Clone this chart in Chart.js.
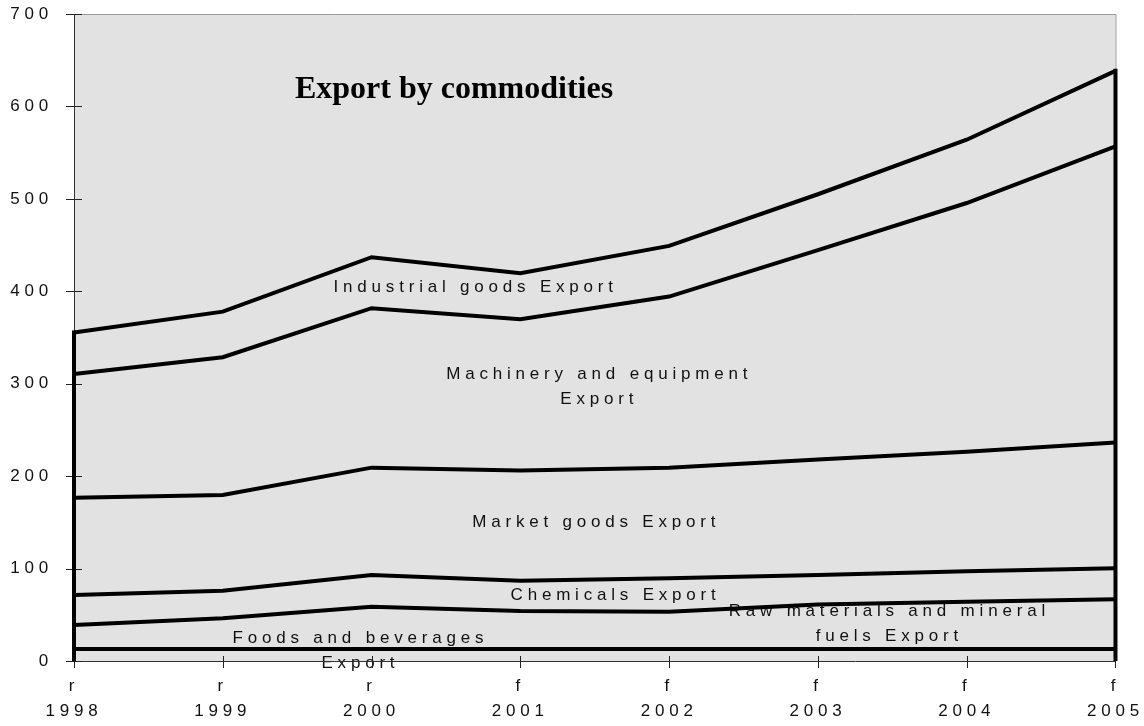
<!DOCTYPE html>
<html>
<head>
<meta charset="utf-8">
<script src="https://cdn.jsdelivr.net/npm/chart.js@4.4.1/dist/chart.umd.min.js"></script>
<style>
  html, body { margin: 0; padding: 0; background: #fff; }
  #wrap { width: 1144px; height: 726px; }
</style>
</head>
<body>
<div id="wrap"><canvas id="chart" width="1144" height="726"></canvas></div>
<script>
// export by commodity group, stacked (bottom to top)
const years = ['1998', '1999', '2000', '2001', '2002', '2003', '2004', '2005'];
const status = ['r', 'r', 'r', 'f', 'f', 'f', 'f', 'f'];
const foods = [13.0, 13.0, 13.0, 13.0, 13.0, 13.0, 13.0, 13.0];
const rawMaterials = [26.0, 33.2, 45.8, 41.1, 40.4, 48.0, 51.0, 53.8];
const chemicals = [32.4, 29.8, 34.2, 32.8, 36.1, 32.0, 33.0, 33.5];
const marketGoods = [105.3, 103.7, 116.2, 119.1, 119.7, 125.0, 129.5, 136.0];
const machinery = [133.9, 149.0, 172.5, 163.8, 185.1, 226.5, 269.0, 320.4];
const industrial = [44.7, 49.3, 55.2, 49.8, 54.8, 60.5, 68.5, 81.8];
const yTicks = [0, 100, 200, 300, 400, 500, 600, 700];

const FONT = 'Arial, "Liberation Sans", sans-serif';
const SPACING = '4.8px';

const series = [foods, rawMaterials, chemicals, marketGoods, machinery, industrial];
const totals = years.map((_, i) => series.reduce((s, arr) => s + arr[i], 0));

// text placed inside the bands, anchored in axis units (category index, value)
const bandLabels = [
  { at: [2.7, 404.8], lines: ['Industrial goods Export'] },
  { at: [3.53, 310.6], lines: ['Machinery and equipment', 'Export'] },
  { at: [3.51, 150.4], lines: ['Market goods Export'] },
  { at: [3.64, 71.4], lines: ['Chemicals Export'] },
  { at: [5.48, 54.1], lines: ['Raw materials and mineral', 'fuels Export'] },
  { at: [1.925, 24.9], lines: ['Foods and beverages', 'Export'] }
];

const backdrop = {
  id: 'backdrop',
  beforeLayout(chart) {
    chart.ctx.letterSpacing = SPACING;
  },
  beforeDraw(chart) {
    const { ctx, chartArea: a, scales: { x, y } } = chart;
    ctx.save();
    ctx.fillStyle = '#e2e2e2';
    ctx.fillRect(a.left, a.top, a.right - a.left, a.bottom - a.top);
    ctx.strokeStyle = '#9a9a9a';
    ctx.lineWidth = 1;
    ctx.beginPath();
    ctx.moveTo(a.left, a.top + 0.5);
    ctx.lineTo(a.right + 0.5, a.top + 0.5);
    ctx.lineTo(a.right + 0.5, a.bottom);
    ctx.stroke();

    ctx.fillStyle = '#111';
    ctx.font = '17px ' + FONT;
    ctx.textAlign = 'center';
    ctx.textBaseline = 'middle';
    bandLabels.forEach(l => {
      const px = x.getPixelForValue(l.at[0]);
      const py = y.getPixelForValue(l.at[1]);
      l.lines.forEach((t, i) => ctx.fillText(t, px, py + i * 25));
    });

    ctx.letterSpacing = '0px';
    ctx.fillStyle = '#000';
    ctx.font = 'bold 32px "Times New Roman", "Liberation Serif", serif';
    ctx.textBaseline = 'alphabetic';
    ctx.fillText('Export by commodities', x.getPixelForValue(2.554), y.getPixelForValue(609.3));
    ctx.restore();
  },
  afterDatasetsDraw(chart) {
    const { ctx, chartArea: a, scales: { x, y } } = chart;
    ctx.save();
    ctx.letterSpacing = '0px';
    // tick marks cross the axis lines
    ctx.strokeStyle = '#222';
    ctx.lineWidth = 1;
    ctx.beginPath();
    yTicks.forEach(v => {
      const py = Math.round(y.getPixelForValue(v)) + 0.5;
      ctx.moveTo(a.left - 8, py);
      ctx.lineTo(a.left + 8, py);
    });
    years.forEach((_, i) => {
      const px = Math.round(x.getPixelForValue(i)) + 0.5;
      ctx.moveTo(px, a.bottom - 5);
      ctx.lineTo(px, a.bottom + 7);
    });
    ctx.stroke();

    // closing edges of the stacked areas
    ctx.strokeStyle = '#000';
    ctx.lineWidth = 4;
    ctx.beginPath();
    [0, years.length - 1].forEach(i => {
      const px = x.getPixelForValue(i);
      ctx.moveTo(px, y.getPixelForValue(0));
      ctx.lineTo(px, y.getPixelForValue(totals[i]) - 2);
    });
    ctx.stroke();
    ctx.restore();
  }
};

const names = ['Foods and beverages', 'Raw materials and mineral fuels', 'Chemicals',
  'Market goods', 'Machinery and equipment', 'Industrial goods'];

new Chart(document.getElementById('chart'), {
  type: 'line',
  data: {
    labels: years.map((yr, i) => [status[i], yr]),
    datasets: series.map((arr, i) => ({
      label: names[i],
      data: arr,
      borderColor: '#000',
      borderWidth: 4,
      pointRadius: 0,
      tension: 0,
      fill: false
    }))
  },
  options: {
    responsive: false,
    animation: false,
    layout: { padding: { top: 14, right: 26, bottom: 0, left: 0 } },
    plugins: {
      legend: { display: false },
      tooltip: { enabled: false }
    },
    scales: {
      x: {
        offset: false,
        afterFit: s => { s.height = 65; },
        grid: { drawOnChartArea: false, drawTicks: true, tickLength: 13, tickColor: 'rgba(0,0,0,0)' },
        border: { display: true, color: '#333', width: 1 },
        ticks: {
          color: '#111',
          font: { family: FONT, size: 17, lineHeight: 1.47 },
          padding: 0,
          maxRotation: 0,
          autoSkip: false
        }
      },
      y: {
        stacked: true,
        min: 0,
        max: 700,
        afterFit: s => { s.width = 74; },
        grid: { drawOnChartArea: false, drawTicks: true, tickLength: 18, tickColor: 'rgba(0,0,0,0)' },
        border: { display: true, color: '#333', width: 1 },
        ticks: {
          stepSize: 100,
          color: '#111',
          font: { family: FONT, size: 17 },
          padding: 3
        }
      }
    }
  },
  plugins: [backdrop]
});
</script>
</body>
</html>
